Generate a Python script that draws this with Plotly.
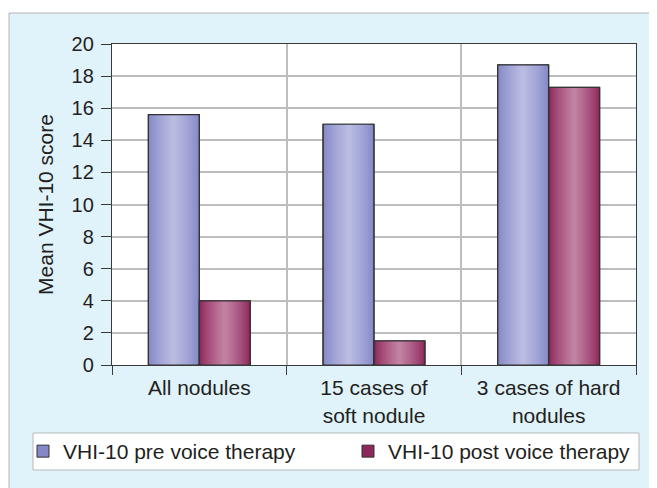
import plotly.graph_objects as go

categories = ["All nodules", "15 cases of<br>soft nodule", "3 cases of hard<br>nodules"]
pre_values = [15.6, 15.0, 18.7]
post_values = [4.0, 1.5, 17.3]
series_names = ["VHI-10 pre voice therapy", "VHI-10 post voice therapy"]
y_ticks = [0, 2, 4, 6, 8, 10, 12, 14, 16, 18, 20]

FONT = "Liberation Sans, Arial, sans-serif"
TEXT = "#231f20"
W = 0.292  # bar width in category units
N = 14     # gradient layers


def mix(c1, c2, t):
    return "rgb(%d,%d,%d)" % tuple(round(a + (b - a) * t) for a, b in zip(c1, c2))


series = [
    (pre_values, series_names[0], -W / 2, (132, 136, 198), (186, 188, 226), "legend"),
    (post_values, series_names[1], W / 2, (142, 40, 92), (194, 130, 162), "legend2"),
]

fig = go.Figure()
for vals, name, center, edge, light, lg in series:
    for k in range(N):
        t = k / (N - 1)
        w = W * (1 - k / N)
        fig.add_trace(go.Bar(
            x=categories, y=vals, name=name,
            width=w, offset=center - w / 2,
            marker=dict(color=mix(edge, light, t ** 0.8),
                        line=dict(color="#333333", width=1 if k == 0 else 0)),
            showlegend=(k == 0), legend=lg, hoverinfo="skip" if k else None,
        ))
    fig.add_trace(go.Bar(
        x=categories, y=vals, width=W, offset=center - W / 2,
        marker=dict(color="rgba(0,0,0,0)", line=dict(color="#333333", width=1.2)),
        showlegend=False, hoverinfo="skip",
    ))

# the page body adds an 8px margin; work in page pixels and shift
OFF = 8
FW, FH = 657 - OFF, 488 - OFF
PL, PR, PT, PB = 112, 636, 44, 365  # plot area in page pixels
L, R, T, B = PL - OFF, FW - (PR - OFF), PT - OFF, FH - (PB - OFF)
PW, PH = PR - PL, PB - PT


def px(x):
    return (x - PL) / PW


def py(y):
    return (PB - y) / PH


fig.update_layout(
    width=FW, height=FH,
    margin=dict(l=L, r=R, t=T, b=B),
    barmode="overlay",
    paper_bgcolor="white", plot_bgcolor="white",
    font=dict(family=FONT, color=TEXT, size=20),
    shapes=[
        dict(type="rect", xref="paper", yref="paper", layer="below",
             x0=px(9), x1=px(700), y0=py(520), y1=py(13),
             fillcolor="#e0f2fa", line=dict(color="#b4b4b4", width=1)),
        dict(type="rect", xref="paper", yref="paper", layer="below",
             x0=0, x1=1, y0=0, y1=1, fillcolor="white", line=dict(width=0)),
        dict(type="rect", xref="paper", yref="paper", layer="below",
             x0=px(33), x1=px(639), y0=py(470), y1=py(433),
             fillcolor="white", line=dict(color="#b8b8b8", width=1)),
    ],
    legend=dict(x=px(23), xanchor="left", y=py(451.5), yanchor="middle",
                orientation="h", bgcolor="rgba(0,0,0,0)", font=dict(size=21, color=TEXT),
                itemwidth=30),
    legend2=dict(x=px(348), xanchor="left", y=py(451.5), yanchor="middle",
                 orientation="h", bgcolor="rgba(0,0,0,0)", font=dict(size=21, color=TEXT),
                 itemwidth=30),
    xaxis=dict(
        type="category", tickson="boundaries", showgrid=True, gridcolor="#bdbdbd", gridwidth=1.5,
        showline=True, linecolor="#3a3a3a", linewidth=1.3, mirror=True,
        ticks="outside", ticklen=9, tickcolor="#3a3a3a", tickwidth=1.3,
        tickfont=dict(size=21, color=TEXT), ticklabelstandoff=4, range=[-0.5, 2.5],
    ),
    yaxis=dict(
        range=[0, 20], tickvals=y_ticks, showgrid=True, gridcolor="#bdbdbd", gridwidth=1.5,
        showline=True, linecolor="#3a3a3a", linewidth=1.3, mirror=True,
        ticks="outside", ticklen=10, tickcolor="#3a3a3a", tickwidth=1.3,
        tickfont=dict(size=20, color=TEXT), ticklabelstandoff=3,
        title=dict(text="Mean VHI-10 score", font=dict(size=21, color=TEXT), standoff=12),
        zeroline=False,
    ),
)

fig.write_html("out.html")
